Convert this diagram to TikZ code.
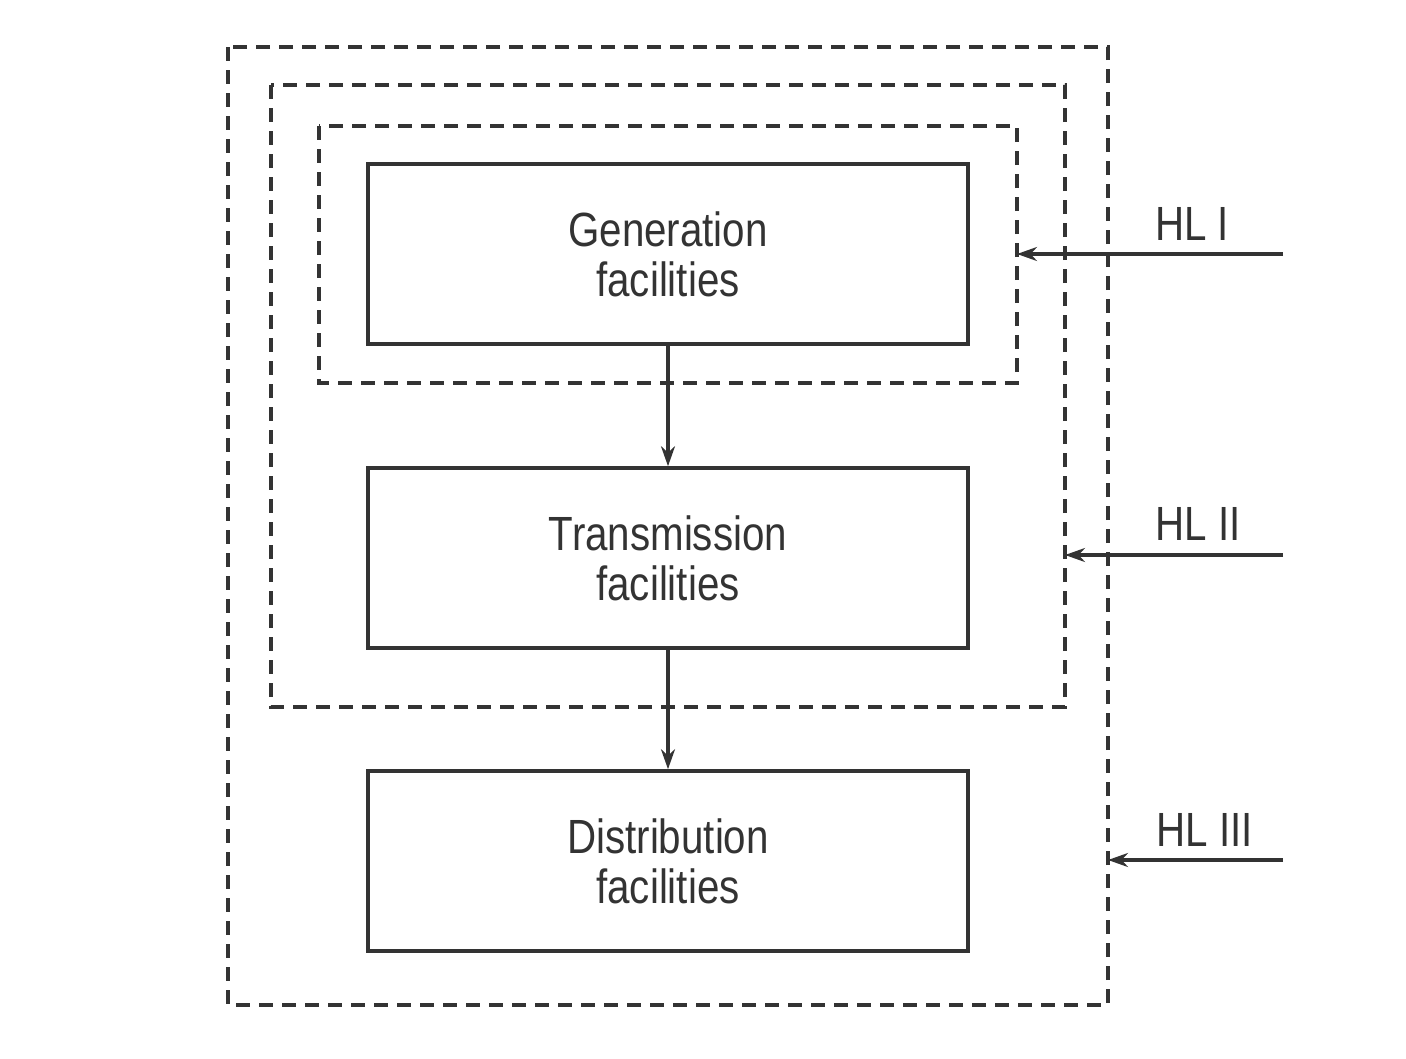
\documentclass[tikz,border=0pt]{standalone}
\usepackage{fontspec}
\setmainfont[FakeStretch=0.84]{Liberation Sans}
\usetikzlibrary{arrows.meta}
\definecolor{ink}{HTML}{333333}
\tikzset{
  facility/.style={draw=ink, line width=3.6pt, minimum width=600pt, minimum height=180pt, align=center, font=\fontsize{48}{50}\selectfont, text=ink, inner sep=0pt},
  layer/.style={draw=ink, line width=3.2pt, dash pattern=on 14pt off 9pt},
  flow/.style={draw=ink, line width=3.2pt, -{Stealth[length=20pt,width=14pt]}},
  hl/.style={draw=ink, line width=3.2pt, -{Stealth[length=20pt,width=14pt]}},
  hllabel/.style={font=\fontsize{48}{50}\selectfont, text=ink, inner sep=0pt}
}
\begin{document}
\begin{tikzpicture}[x=1pt,y=-1pt]
\useasboundingbox (0,0) rectangle (1406,1058);
% dashed hierarchical levels
\draw[layer] (228,47) rectangle (1108,1005);
\draw[layer] (271,85) rectangle (1065,707);
\draw[layer] (319,126) rectangle (1017,383);
\coordinate (l1) at (1017,254);
\coordinate (l2) at (1065,555);
\coordinate (l3) at (1108,860);
% facilities
\node[facility] (gen) at (668,254) {Generation\\facilities};
\node[facility] (tra) at (668,558) {Transmission\\facilities};
\node[facility] (dis) at (668,861) {Distribution\\facilities};
\draw[flow] (gen.south) -- (tra.north);
\draw[flow] (tra.south) -- (dis.north);
% hierarchical level arrows
\coordinate (s1) at (1283,254);
\coordinate (s2) at (1283,555);
\coordinate (s3) at (1283,860);
\draw[hl] (s1) -- (l1);
\draw[hl] (s2) -- (l2);
\draw[hl] (s3) -- (l3);
\node[hllabel] (t1) at (1192,224) {HL I};
\node[hllabel] (t2) at (1198,524) {HL II};
\node[hllabel] (t3) at (1205,830) {HL III};
\end{tikzpicture}
\end{document}
